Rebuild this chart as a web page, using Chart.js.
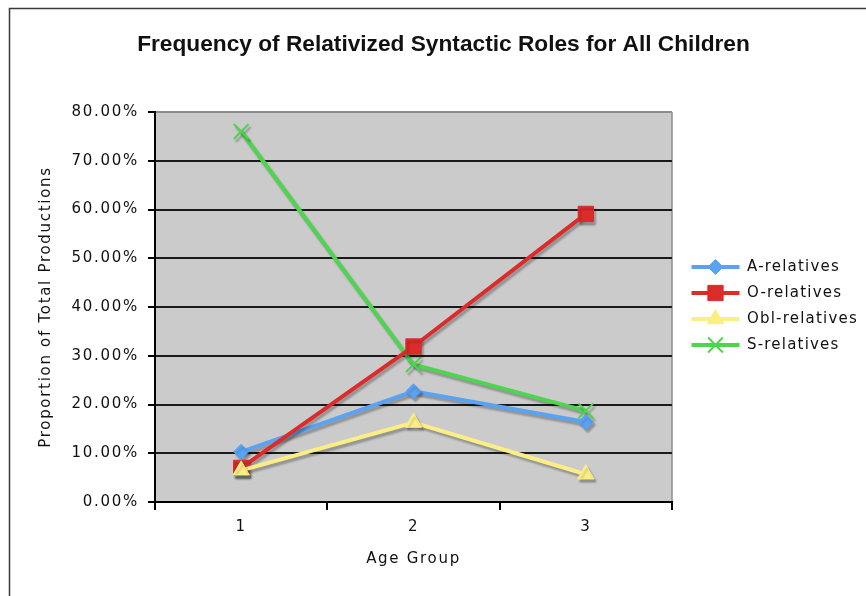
<!DOCTYPE html>
<html>
<head>
<meta charset="utf-8">
<script src="https://cdn.jsdelivr.net/npm/chart.js@4/dist/chart.umd.min.js"></script>
<style>
  html, body { margin: 0; padding: 0; background: #fff; }
  canvas { display: block; }
</style>
</head>
<body>
<canvas id="chart" width="866" height="596"></canvas>
<script>
// Age groups on the x axis
const ageGroups = ['1', '2', '3'];

// Proportion of total productions (%) per relativized role
const aRelatives   = [10.3, 22.7, 16.4];
const oRelatives   = [7.0, 31.9, 59.1];
const oblRelatives = [6.5, 16.3, 5.7];
const sRelatives   = [76.0, 28.2, 18.7];

const seriesNames = ['A-relatives', 'O-relatives', 'Obl-relatives', 'S-relatives'];

// y axis range / tick step (percent)
const yMin = 0;
const yMax = 80;
const yStep = 10;

const BLUE = '#5aa2f2';
const RED = '#dc2b2b';
const YELLOW = '#fbee85';
const GREEN = '#4fd44f';

const TEXT_FONT = 'DejaVu Sans';
const TEXT_SPACING = '1.7px';
const LEGEND_SPACING = '1.2px';
const LEGEND_BOX_W = 48;

function marker(ctx, style, r, x, y) {
  ctx.beginPath();
  if (style === 'rectRot') {
    ctx.moveTo(x, y - r); ctx.lineTo(x + r, y); ctx.lineTo(x, y + r); ctx.lineTo(x - r, y); ctx.closePath();
    ctx.fill(); ctx.stroke();
  } else if (style === 'rect') {
    const s = r * Math.SQRT1_2;
    ctx.rect(x - s, y - s, 2 * s, 2 * s);
    ctx.fill(); ctx.stroke();
  } else if (style === 'triangle') {
    ctx.moveTo(x, y - r);
    ctx.lineTo(x + r * Math.sin(2 * Math.PI / 3), y + r / 2);
    ctx.lineTo(x - r * Math.sin(2 * Math.PI / 3), y + r / 2);
    ctx.closePath();
    ctx.fill(); ctx.stroke();
  } else if (style === 'crossRot') {
    const d = r * Math.SQRT1_2;
    ctx.moveTo(x - d, y - d); ctx.lineTo(x + d, y + d);
    ctx.moveTo(x - d, y + d); ctx.lineTo(x + d, y - d);
    ctx.stroke();
  }
}

const framePlugin = {
  id: 'frame',
  beforeLayout(chart) {
    const ctx = chart.ctx;
    ctx.letterSpacing = TEXT_SPACING;
    const lg = chart.legend;
    if (lg && !lg._wrapped) {
      const fit = lg.fit.bind(lg);
      lg.fit = function () { fit(); this.width = 194; };
      const draw = lg.draw.bind(lg);
      lg.draw = function (area) {
        ctx.letterSpacing = LEGEND_SPACING;
        draw(area);
        ctx.letterSpacing = TEXT_SPACING;
      };
      lg._wrapped = true;
    }
    const tb = chart.titleBlock;
    if (tb && !tb._wrapped) {
      const draw = tb.draw.bind(tb);
      tb.draw = function (area) {
        ctx.letterSpacing = '0px';
        draw(area);
        ctx.letterSpacing = TEXT_SPACING;
      };
      tb._wrapped = true;
    }
  },
  afterLayout(chart) {
    const lg = chart.legend;
    if (lg) {
      lg.left = 680.5;
      lg.top += 8;
      lg.bottom += 8;
    }
  },
  beforeDraw(chart) {
    const ctx = chart.ctx;
    const a = chart.chartArea;
    ctx.letterSpacing = TEXT_SPACING;
    ctx.save();
    ctx.fillStyle = '#ffffff';
    ctx.fillRect(0, 0, chart.width, chart.height);
    ctx.strokeStyle = '#3a3a3a';
    ctx.lineWidth = 1.5;
    ctx.strokeRect(9.5, 8.5, chart.width + 20, chart.height + 20);
    ctx.fillStyle = '#cbcbcb';
    ctx.fillRect(a.left, a.top, a.right - a.left, a.bottom - a.top);
    ctx.strokeStyle = '#8c8c8c';
    ctx.lineWidth = 1.5;
    ctx.beginPath();
    ctx.moveTo(a.right, a.top);
    ctx.lineTo(a.right, a.bottom);
    ctx.stroke();
    ctx.restore();
  },
  beforeDatasetsDraw(chart) {
    const ctx = chart.ctx;
    ctx.save();
    ctx.shadowColor = 'rgba(0,0,0,0.28)';
    ctx.shadowOffsetX = 2;
    ctx.shadowOffsetY = 3;
    ctx.shadowBlur = 2;
  },
  afterDatasetsDraw(chart) {
    chart.ctx.restore();
  },
  afterDraw(chart) {
    const lg = chart.legend;
    if (!lg || !lg.legendHitBoxes) return;
    const ctx = chart.ctx;
    lg.legendItems.forEach((item, i) => {
      const hb = lg.legendHitBoxes[i];
      const ds = chart.data.datasets[item.datasetIndex];
      const y = hb.top + hb.height / 2;
      const x0 = hb.left;
      const x1 = hb.left + LEGEND_BOX_W;
      ctx.save();
      ctx.strokeStyle = ds.borderColor;
      ctx.lineWidth = ds.borderWidth;
      ctx.beginPath();
      ctx.moveTo(x0, y);
      ctx.lineTo(x1, y);
      ctx.stroke();
      ctx.fillStyle = ds.backgroundColor;
      ctx.strokeStyle = ds.borderColor;
      ctx.lineWidth = ds.pointBorderWidth;
      marker(ctx, ds.pointStyle, ds.pointRadius, (x0 + x1) / 2, y);
      ctx.restore();
    });
  }
};

const series = [
  { label: seriesNames[0], data: aRelatives, color: BLUE, style: 'rectRot', radius: 7.5, pbw: 1, order: 2 },
  { label: seriesNames[1], data: oRelatives, color: RED, style: 'rect', radius: 10.8, pbw: 1, order: 1 },
  { label: seriesNames[2], data: oblRelatives, color: YELLOW, style: 'triangle', radius: 9.5, pbw: 1, order: 0 },
  { label: seriesNames[3], data: sRelatives, color: GREEN, style: 'crossRot', radius: 10.5, pbw: 2, order: 3 }
];

new Chart(document.getElementById('chart'), {
  type: 'line',
  data: {
    labels: ageGroups,
    datasets: series.map(s => ({
      label: s.label,
      data: s.data,
      borderColor: s.color,
      backgroundColor: s.color,
      borderWidth: 4,
      pointStyle: s.style,
      pointRadius: s.radius,
      pointHoverRadius: s.radius,
      pointBorderWidth: s.pbw,
      pointBorderColor: s.color,
      pointBackgroundColor: s.color,
      tension: 0,
      fill: false,
      order: s.order
    }))
  },
  options: {
    responsive: false,
    animation: false,
    layout: { padding: { left: 21, right: 0, top: 0, bottom: 0 } },
    plugins: {
      title: {
        display: true,
        text: 'Frequency of Relativized Syntactic Roles for All Children',
        color: '#111',
        font: { family: 'Liberation Sans', size: 22.7, weight: 'bold' },
        padding: { top: 31.4, bottom: 53.36 }
      },
      legend: {
        position: 'right',
        labels: {
          color: '#111',
          font: { family: TEXT_FONT, size: 15 },
          boxWidth: LEGEND_BOX_W,
          boxHeight: 15,
          padding: 11,
          sort: (a, b) => a.datasetIndex - b.datasetIndex,
          generateLabels: (chart) => {
            const items = Chart.defaults.plugins.legend.labels.generateLabels(chart);
            items.forEach(it => {
              it.fillStyle = 'rgba(0,0,0,0)';
              it.strokeStyle = 'rgba(0,0,0,0)';
              it.lineWidth = 0;
            });
            return items;
          }
        }
      },
      tooltip: { enabled: false }
    },
    scales: {
      x: {
        type: 'category',
        offset: true,
        grid: {
          display: true,
          drawOnChartArea: false,
          offset: true,
          tickLength: 8,
          color: '#000',
          tickColor: '#000',
          lineWidth: 2
        },
        border: { display: true, color: '#000', width: 2 },
        ticks: {
          color: '#111',
          font: { family: TEXT_FONT, size: 15 },
          padding: 8,
          maxRotation: 0
        },
        title: {
          display: true,
          text: 'Age Group',
          color: '#111',
          font: { family: TEXT_FONT, size: 15 },
          padding: { top: 0, bottom: 28 }
        },
        afterFit: (s) => { s.height = 94; }
      },
      y: {
        min: yMin,
        max: yMax,
        grid: {
          color: (c) => (c.tick && c.tick.value === yMax ? '#8c8c8c' : '#1a1a1a'),
          tickColor: '#000',
          lineWidth: 2,
          tickLength: 7
        },
        border: { display: true, color: '#000', width: 2 },
        ticks: {
          stepSize: yStep,
          color: '#111',
          font: { family: TEXT_FONT, size: 15 },
          padding: 9,
          callback: (v) => Number(v).toFixed(2) + '%'
        },
        title: {
          display: true,
          text: 'Proportion of Total Productions',
          color: '#111',
          font: { family: TEXT_FONT, size: 15 },
          padding: { top: 16, bottom: 0 }
        },
        afterFit: (s) => { s.width = 134; }
      }
    }
  },
  plugins: [framePlugin]
});
</script>
</body>
</html>
